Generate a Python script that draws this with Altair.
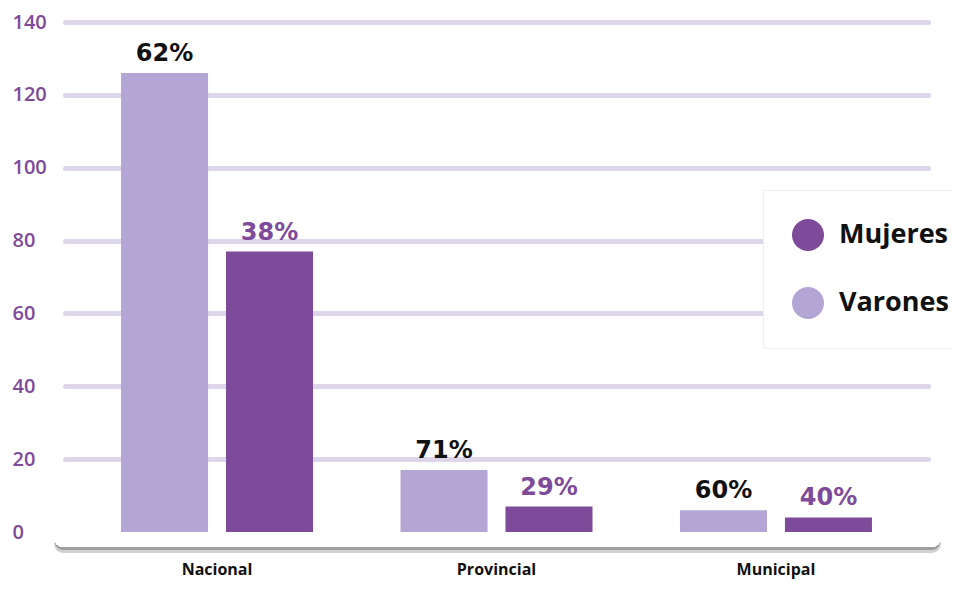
import altair as alt
import pandas as pd

categorias = ["Nacional", "Provincial", "Municipal"]
series = ["Varones", "Mujeres"]
varones = [126, 17, 6]
mujeres = [77, 7, 4]
pct_varones = ["62%", "71%", "60%"]
pct_mujeres = ["38%", "29%", "40%"]
y_ticks = [0, 20, 40, 60, 80, 100, 120, 140]

rows = []
for i, c in enumerate(categorias):
    rows.append({"nivel": c, "serie": "Varones", "valor": varones[i], "pct": pct_varones[i]})
    rows.append({"nivel": c, "serie": "Mujeres", "valor": mujeres[i], "pct": pct_mujeres[i]})
df = pd.DataFrame(rows)

PURPLE = "#7E4A9A"
LAVENDER = "#B3A6D4"
GRID = "#DDD5EA"

x = alt.X("nivel:N", sort=categorias,
          scale=alt.Scale(paddingInner=0, paddingOuter=0.044),
          axis=alt.Axis(title=None, labelAngle=0, domain=False, ticks=False, tickSize=0,
                        labelPadding=29, labelColor="#111111", labelFontSize=16,
                        labelFontWeight=700, grid=False))
xo = alt.XOffset("serie:N", sort=series,
                 scale=alt.Scale(paddingInner=0.171, paddingOuter=0.4167))
y_scale = alt.Scale(domain=[0, 140], nice=False)
y_axis = alt.Axis(title=None, values=y_ticks, domain=False, ticks=False, tickSize=0,
                  labelAlign="left", labelPadding=53, labelColor=PURPLE,
                  labelFontSize=20, labelFontWeight=600, grid=True,
                  gridColor=GRID, gridWidth=5, gridCap="round")
y = alt.Y("valor:Q", scale=y_scale, axis=y_axis)
y0 = alt.YDatum(0, type="quantitative", scale=y_scale, axis=y_axis)

base = alt.Chart(df)

shadow_wide = base.mark_rule(strokeWidth=18, strokeCap="round", color="#000000",
                             opacity=0.03, yOffset=12).encode(
    y=y0, x=alt.value(-2), x2=alt.value(867))
shadow = base.mark_rule(strokeWidth=16, strokeCap="round", color="#000000",
                        opacity=0.045, yOffset=10).encode(
    y=y0, x=alt.value(-2), x2=alt.value(867))
floor = base.mark_rule(strokeWidth=18, strokeCap="round", color="#ffffff",
                       yOffset=6).encode(
    y=y0, x=alt.value(-2), x2=alt.value(867))

bars = base.mark_bar().encode(
    x=x, xOffset=xo, y=y,
    color=alt.Color("serie:N",
                    scale=alt.Scale(domain=["Mujeres", "Varones"], range=[PURPLE, LAVENDER]),
                    legend=alt.Legend(title=None, orient="none", legendX=698, legendY=168,
                                      fillColor="#ffffff", strokeColor="#eeeeee",
                                      padding=29, rowPadding=36, symbolSize=1024,
                                      symbolType="circle", symbolStrokeWidth=0,
                                      symbolOpacity=1, labelFontSize=27,
                                      labelFontWeight="bold", labelColor="#111111",
                                      labelOffset=15)),
)

labels = base.mark_text(baseline="bottom", dy=-7, fontSize=24, fontWeight="bold",
                        font="DejaVu Sans").encode(
    x=x, xOffset=xo, y=y, text="pct:N",
    color=alt.condition(alt.datum.serie == "Mujeres", alt.value(PURPLE), alt.value("#111111")))

chart = alt.layer(shadow_wide, shadow, floor, bars, labels).properties(
    width=863, height=510,
    autosize=alt.AutoSizeParams(type="none"),
    padding={"left": 57, "top": 14, "right": 25, "bottom": 49},
).configure(font="Open Sans").configure_view(stroke=None)

chart.save("out.html", embed_options={"renderer": "svg", "actions": False})
